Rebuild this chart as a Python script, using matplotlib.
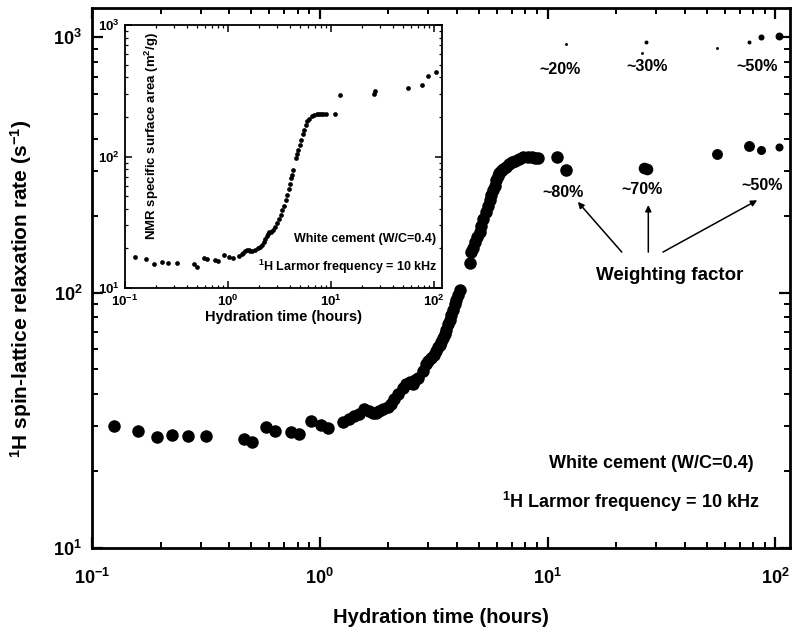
import numpy as np
import matplotlib
matplotlib.use("Agg")
import matplotlib.pyplot as plt

plt.rcParams['font.family'] = ['Liberation Sans', 'DejaVu Sans']
plt.rcParams['font.weight'] = 'bold'
plt.rcParams['axes.labelweight'] = 'bold'
plt.rcParams['mathtext.default'] = 'regular'
plt.rcParams['axes.unicode_minus'] = False

# ---------------- data ----------------
# main panel: 1H spin-lattice relaxation rate (s^-1) vs hydration time (h)
t_main = [0.125, 0.159, 0.193, 0.225, 0.265, 0.318, 0.464, 0.505, 0.582, 0.634,
          0.750, 0.811, 0.919, 1.01, 1.09, 1.27, 1.35, 1.42, 1.48, 1.57,
          1.64, 1.71, 1.76, 1.82, 1.90, 1.99, 2.05, 2.12, 2.20, 2.31,
          2.39, 2.48, 2.56, 2.62, 2.69, 2.83, 2.93, 3.00, 3.08, 3.16,
          3.24, 3.30, 3.36, 3.41, 3.47, 3.53, 3.59, 3.65, 3.72, 3.78,
          3.85, 3.91, 3.97, 4.04, 4.11, 4.55, 4.63, 4.70, 4.79, 4.90,
          5.04, 5.12, 5.21, 5.35, 5.48, 5.58, 5.67, 5.77, 5.86, 5.96,
          6.06, 6.15, 6.27, 6.40, 6.59, 6.80, 7.00, 7.18, 7.50, 7.82,
          8.20, 8.51, 8.80, 9.11, 10.97]
r_main = [29.9, 28.8, 27.1, 27.8, 27.5, 27.4, 26.8, 25.9, 29.8, 28.6,
          28.5, 27.9, 31.5, 30.4, 29.6, 31.0, 32.0, 32.9, 33.5, 35.0,
          34.5, 33.9, 33.8, 34.4, 35.0, 35.5, 36.5, 38.2, 40.0, 42.4,
          43.7, 44.5, 43.7, 45.5, 46.5, 49.3, 52.4, 54.0, 55.5, 57.0,
          58.9, 61.0, 62.6, 64.0, 66.4, 69.0, 71.6, 75.0, 78.3, 82.0,
          85.7, 90.0, 93.7, 98.0, 102.5, 130, 144, 150, 158, 165,
          173, 183, 194, 206, 219, 230, 240, 251, 262, 275,
          287, 295, 300, 305, 309, 318, 323, 328, 334, 338,
          339, 338, 337, 335, 338]

# two-component fits at late times (slow = large weight, fast = small weight)
t_slow = [12.05, 26.4, 27.2, 55.5, 76.5, 86.7, 103.7]
r_slow = [303, 307, 304, 348, 376, 361, 370]
t_fast = [12.05, 26.1, 27.0, 55.5, 76.5, 86.7, 103.7]
r_fast = [940, 867, 957, 906, 961, 1000, 1006]
ms_slow = [6.7, 6.2, 6.2, 5.8, 5.8, 4.8, 4.3]
ms_fast = [1.4, 1.4, 1.9, 1.4, 1.9, 2.9, 3.8]

pct_upper = ['~20%', '~30%', '~50%']
pct_lower = ['~80%', '~70%', '~50%']

# inset: NMR specific surface area (m^2/g)
t_in = [0.125, 0.159, 0.191, 0.227, 0.264, 0.318, 0.471, 0.504, 0.585, 0.630,
        0.748, 0.794, 0.915, 1.01, 1.11, 1.27, 1.35, 1.41, 1.47, 1.52,
        1.58, 1.64, 1.72, 1.83, 1.95, 2.05, 2.15, 2.24, 2.30, 2.37,
        2.46, 2.50, 2.59, 2.72, 2.86, 3.00, 3.13, 3.25, 3.37, 3.50,
        3.63, 3.77, 3.91, 4.00, 4.09, 4.20, 4.31, 4.57, 4.70, 4.82,
        4.95, 5.11, 5.28, 5.47, 5.67, 5.89, 6.10, 6.49, 6.80, 7.26,
        7.70, 8.00, 8.43, 9.00, 10.9, 12.2, 26.1, 26.7, 55.1, 75.9,
        86.1, 104]
a_in = [17.2, 16.7, 15.3, 15.7, 15.6, 15.6, 15.1, 14.5, 16.9, 16.5,
        16.2, 16.0, 17.9, 17.3, 17.0, 17.5, 18.0, 18.6, 19.0, 19.5,
        19.3, 19.2, 19.0, 19.5, 20.0, 20.6, 21.3, 22.2, 23.5, 25.0,
        25.6, 26.5, 26.5, 27.5, 28.9, 31.0, 33.6, 36.0, 38.9, 42.0,
        46.4, 51.0, 57.0, 62.0, 68.1, 72.0, 78.9, 97.1, 104, 112,
        122, 134, 147, 160, 173, 186, 193, 203, 207, 212,
        212, 212, 212, 210, 212, 294, 301, 316, 332, 352,
        412, 437]

# ---------------- figure ----------------
W, H = 793, 637
fig = plt.figure(figsize=(W / 100, H / 100), dpi=100)

def px_axes(l, t, r, b):
    return [l / W, 1 - b / H, (r - l) / W, (b - t) / H]

ax = fig.add_axes(px_axes(92, 8, 790, 548))
ax.set_xscale('log')
ax.set_yscale('log')
ax.set_xlim(0.1, 116)
ax.set_ylim(10, 1300)

ax.plot(t_main, r_main, 'o', color='black', markersize=9, markeredgewidth=0)
for t, r, m in zip(t_slow, r_slow, ms_slow):
    ax.plot([t], [r], 'o', color='black', markersize=m * 1.35, markeredgewidth=0)
for t, r, m in zip(t_fast, r_fast, ms_fast):
    ax.plot([t], [r], 'o', color='black', markersize=m * 1.5, markeredgewidth=0)

for s in ax.spines.values():
    s.set_linewidth(2.0)
ax.tick_params(which='both', direction='in', top=True, right=True)
ax.tick_params(which='major', length=8, width=1.6, labelsize=13, pad=7)
ax.tick_params(which='minor', length=4.5, width=1.4)
ax.tick_params(axis='x', which='major', pad=14)

ax.set_xlabel('Hydration time (hours)', fontsize=14.5, fontweight='bold', va='top')
ax.xaxis.set_label_coords(0.5, -0.111)
ax.set_ylabel('$^{1}$H spin-lattice relaxation rate (s$^{-1}$)', fontsize=15,
              fontweight='bold')
ax.yaxis.set_label_coords(-0.083, 0.48)

ax.text(0.948, 0.157, 'White cement (W/C=0.4)', transform=ax.transAxes,
        ha='right', va='center', fontsize=13)
ax.text(0.956, 0.085, '$^{1}$H Larmor frequency = 10 kHz', transform=ax.transAxes,
        ha='right', va='center', fontsize=13)

for (x, y), s in zip([(0.670, 0.887), (0.795, 0.891), (0.953, 0.891)], pct_upper):
    ax.text(x, y, s, transform=ax.transAxes, ha='center', va='center', fontsize=11.5)
for (x, y), s in zip([(0.675, 0.659), (0.788, 0.663), (0.960, 0.672)], pct_lower):
    ax.text(x, y, s, transform=ax.transAxes, ha='center', va='center', fontsize=11.5)

ax.text(0.827, 0.504, 'Weighting factor', transform=ax.transAxes,
        ha='center', va='center', fontsize=13.5)
tails = [(0.759, 0.548), (0.797, 0.548), (0.818, 0.548)]
heads = [(0.696, 0.641), (0.797, 0.635), (0.953, 0.644)]
for (tx, ty), (hx, hy) in zip(tails, heads):
    ax.annotate('', xy=(hx, hy), xytext=(tx, ty), xycoords='axes fraction',
                textcoords='axes fraction',
                arrowprops=dict(arrowstyle='-|>', color='black', lw=1.1,
                                mutation_scale=9, shrinkA=0, shrinkB=0))

# ---------------- inset ----------------
ins = fig.add_axes(px_axes(125, 25, 442, 288))
ins.set_xscale('log')
ins.set_yscale('log')
ins.set_xlim(0.1, 119)
ins.set_ylim(10, 1000)
ins.plot(t_in, a_in, 'o', color='black', markersize=3.4, markeredgewidth=0)
for s in ins.spines.values():
    s.set_linewidth(1.3)
ins.tick_params(which='both', direction='in', top=True, right=True)
ins.tick_params(which='major', length=5, width=1.1, labelsize=9.5, pad=4)
ins.tick_params(which='minor', length=2.5, width=0.9)
ins.tick_params(axis='x', which='major', pad=4)
ins.set_xlabel('Hydration time (hours)', fontsize=10.5, fontweight='bold', labelpad=1)
ins.text(0.085, 0.973, 'NMR specific surface area (m$^{2}$/g)', transform=ins.transAxes,
         rotation=90, ha='center', va='top', fontsize=9.5)
ins.text(0.981, 0.186, 'White cement (W/C=0.4)', transform=ins.transAxes,
         ha='right', va='center', fontsize=9)
ins.text(0.987, 0.080, '$^{1}$H Larmor frequency = 10 kHz', transform=ins.transAxes,
         ha='right', va='center', fontsize=9)

fig.savefig('out.png', dpi=100)
